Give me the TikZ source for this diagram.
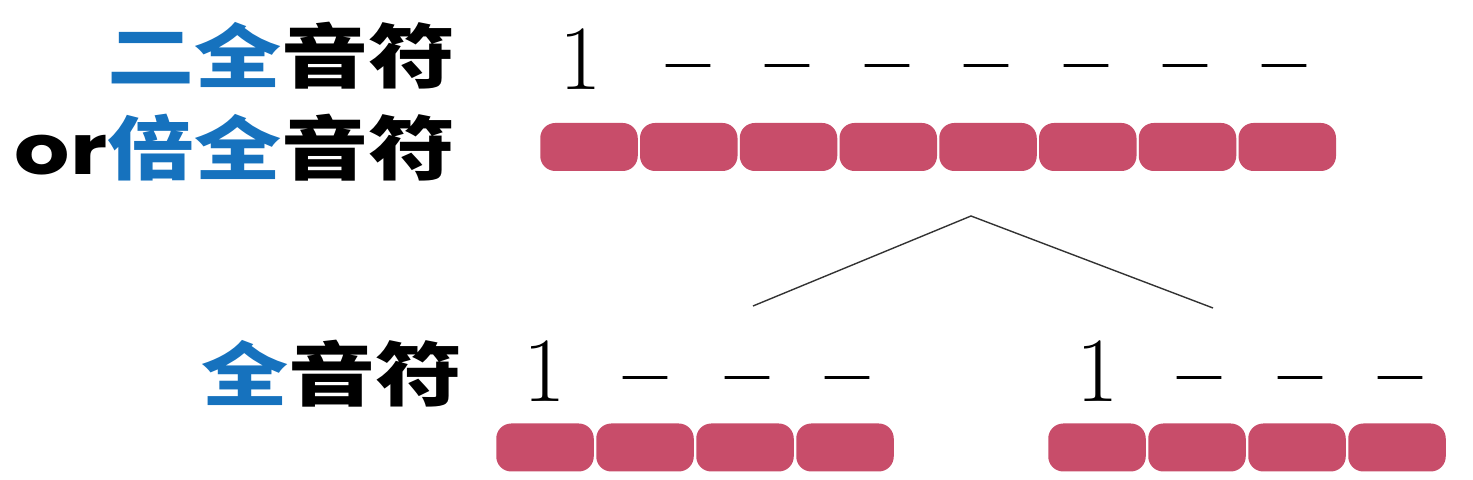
\documentclass[tikz,border=0pt]{standalone}
\usepackage{fontspec}
\newfontfamily\cjk{Noto Sans CJK SC}[BoldFont={Noto Sans CJK SC Black}]
\newfontfamily\latin{Poppins}
\newfontfamily\dashfont{Latin Modern Roman}[FakeBold=1.5]
\definecolor{barred}{HTML}{C84D6A}
\definecolor{noteblue}{HTML}{1672BE}
\newcommand{\squat}[1]{\scalebox{1}[0.8]{#1}}
\tikzset{
  bar/.style={fill=barred, rounded corners=7.5pt, minimum width=48.75pt,
    minimum height=24pt, inner sep=0pt},
  digit/.style={font=\fontsize{46}{46}\selectfont, inner sep=0pt, anchor=base},
  hold/.style={digit, font=\dashfont\fontsize{46}{46}\selectfont},
  notename/.style={font=\cjk\bfseries\fontsize{43.5}{43.5}\selectfont,
    inner sep=0pt, anchor=east},
  branch/.style={draw=black!80, line width=0.7pt}
}
\begin{document}
\begin{tikzpicture}[x=0.5pt,y=-0.5pt]
  \useasboundingbox (0,0) rectangle (1473,480);
  % names on the left
  \node[notename] (double) at (456,55.5) {\squat{\textcolor{noteblue}{二全}音符}};
  \node[notename] (breve) at (456,147.5) {\squat{{\latin\bfseries or}\textcolor{noteblue}{倍全}音符}};
  \node[notename] (whole) at (463,373.5) {\squat{\textcolor{noteblue}{全}音符}};
  % top row: 1 - - - - - - -
  \node[digit] (tone) at (581,90) {1};
  \foreach \x [count=\i] in {688,787,887,986,1086,1185,1284}
    \node[hold] (tdash\i) at (\x,90) {–};
  \foreach \i in {0,...,7}
    \node[bar] (top\i) at ({589+99.75*\i},147) {};
  % split into two
  \coordinate (apex) at (971,216);
  \coordinate (lend) at (753,306);
  \coordinate (rend) at (1213,308);
  \draw[branch] (lend) -- (apex) -- (rend);
  % bottom rows: 1 - - -
  \node[digit] (lone) at (545,402) {1};
  \node[digit] (rone) at (1098,402) {1};
  \foreach \x [count=\i] in {645,747,847}
    \node[hold] (ldash\i) at (\x,402) {–};
  \foreach \x [count=\i] in {1199,1300,1400}
    \node[hold] (rdash\i) at (\x,402) {–};
  \foreach \i in {0,...,3} {
    \node[bar] (left\i) at ({545+100*\i},447.5) {};
    \node[bar] (right\i) at ({1097+100*\i},447.5) {};
  }
\end{tikzpicture}
\end{document}
